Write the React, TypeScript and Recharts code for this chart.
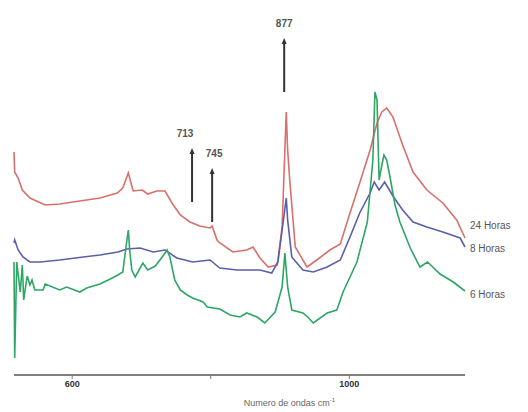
import React from 'react';
import { LineChart, Line, XAxis, YAxis, ReferenceLine } from 'recharts';

// Raman spectra (x: cm-1, y: arbitrary intensity)
const red24h = [
  { x: 516, y: 223 }, { x: 517, y: 203 }, { x: 522, y: 197 }, { x: 528, y: 185 },
  { x: 539, y: 177 }, { x: 561, y: 170 }, { x: 582, y: 171 }, { x: 611, y: 174 },
  { x: 640, y: 177 }, { x: 665, y: 182 }, { x: 673, y: 187 }, { x: 681, y: 202 },
  { x: 688, y: 184 }, { x: 701, y: 185 }, { x: 709, y: 181 }, { x: 722, y: 184 },
  { x: 734, y: 184 }, { x: 744, y: 172 }, { x: 756, y: 160 }, { x: 770, y: 153 },
  { x: 784, y: 149 }, { x: 799, y: 147 }, { x: 802, y: 149 }, { x: 809, y: 135 },
  { x: 813, y: 132 }, { x: 832, y: 123 }, { x: 852, y: 125 }, { x: 861, y: 128 },
  { x: 871, y: 117 }, { x: 883, y: 108 }, { x: 896, y: 110 }, { x: 903, y: 148 },
  { x: 907, y: 225 }, { x: 909, y: 263 }, { x: 911, y: 225 }, { x: 914, y: 195 },
  { x: 922, y: 128 }, { x: 939, y: 108 }, { x: 953, y: 115 }, { x: 972, y: 125 },
  { x: 987, y: 131 }, { x: 1001, y: 162 }, { x: 1015, y: 192 }, { x: 1030, y: 225 },
  { x: 1040, y: 252 }, { x: 1047, y: 263 }, { x: 1054, y: 267 }, { x: 1063, y: 258 },
  { x: 1077, y: 230 }, { x: 1092, y: 203 }, { x: 1112, y: 185 }, { x: 1135, y: 172 },
  { x: 1155, y: 155 }, { x: 1167, y: 137 },
];

const blue8h = [
  { x: 516, y: 132 }, { x: 517, y: 135 }, { x: 522, y: 125 }, { x: 529, y: 118 },
  { x: 539, y: 113 }, { x: 554, y: 113 }, { x: 582, y: 115 }, { x: 616, y: 118 },
  { x: 640, y: 120 }, { x: 666, y: 123 }, { x: 679, y: 126 }, { x: 698, y: 127 },
  { x: 717, y: 123 }, { x: 734, y: 125 }, { x: 751, y: 117 }, { x: 774, y: 113 },
  { x: 799, y: 115 }, { x: 813, y: 107 }, { x: 838, y: 105 }, { x: 871, y: 105 },
  { x: 888, y: 102 }, { x: 897, y: 113 }, { x: 904, y: 150 }, { x: 909, y: 177 },
  { x: 911, y: 155 }, { x: 917, y: 118 }, { x: 933, y: 105 }, { x: 948, y: 103 },
  { x: 968, y: 108 }, { x: 987, y: 115 }, { x: 1001, y: 138 }, { x: 1015, y: 162 },
  { x: 1030, y: 182 }, { x: 1036, y: 193 }, { x: 1043, y: 185 }, { x: 1051, y: 193 },
  { x: 1063, y: 179 }, { x: 1077, y: 165 }, { x: 1092, y: 153 }, { x: 1112, y: 148 },
  { x: 1135, y: 143 }, { x: 1160, y: 137 }, { x: 1167, y: 128 },
];

const green6h = [
  { x: 516, y: 113 }, { x: 517, y: 17 }, { x: 520, y: 113 }, { x: 525, y: 83 },
  { x: 528, y: 110 }, { x: 530, y: 75 }, { x: 535, y: 99 }, { x: 539, y: 90 },
  { x: 542, y: 95 }, { x: 546, y: 85 }, { x: 558, y: 85 }, { x: 561, y: 91 },
  { x: 582, y: 85 }, { x: 592, y: 88 }, { x: 611, y: 83 }, { x: 621, y: 87 },
  { x: 640, y: 91 }, { x: 655, y: 96 }, { x: 666, y: 100 }, { x: 673, y: 103 },
  { x: 679, y: 135 }, { x: 681, y: 145 }, { x: 683, y: 125 }, { x: 686, y: 105 },
  { x: 691, y: 98 }, { x: 702, y: 112 }, { x: 709, y: 105 }, { x: 720, y: 109 },
  { x: 731, y: 119 }, { x: 737, y: 125 }, { x: 741, y: 118 }, { x: 748, y: 95 },
  { x: 756, y: 85 }, { x: 766, y: 80 }, { x: 774, y: 77 }, { x: 789, y: 73 },
  { x: 795, y: 68 }, { x: 813, y: 66 }, { x: 828, y: 60 }, { x: 842, y: 58 },
  { x: 852, y: 62 }, { x: 867, y: 58 }, { x: 878, y: 52 }, { x: 893, y: 63 },
  { x: 903, y: 88 }, { x: 907, y: 122 }, { x: 911, y: 88 }, { x: 917, y: 65 },
  { x: 933, y: 62 }, { x: 940, y: 58 }, { x: 948, y: 52 }, { x: 968, y: 62 },
  { x: 982, y: 65 }, { x: 991, y: 83 }, { x: 1011, y: 113 }, { x: 1026, y: 153 },
  { x: 1034, y: 215 }, { x: 1037, y: 283 }, { x: 1040, y: 275 }, { x: 1043, y: 195 },
  { x: 1047, y: 210 }, { x: 1050, y: 220 }, { x: 1054, y: 215 }, { x: 1059, y: 197 },
  { x: 1066, y: 170 }, { x: 1073, y: 153 }, { x: 1088, y: 127 }, { x: 1102, y: 108 },
  { x: 1113, y: 113 }, { x: 1119, y: 109 }, { x: 1131, y: 101 }, { x: 1150, y: 93 },
  { x: 1167, y: 84 },
];

const xTicks = [600, 800, 1000];
const xTickLabels: Record<number, string> = { 600: '600', 800: '', 1000: '1000' };

// marked bands: label, x position on the axis, arrow bottom / top, label nudge
const bands = [
  { label: '877', x: 906, y1: 283, y2: 337, dx: 0 },
  { label: '713', x: 773, y1: 173, y2: 227, dx: -7 },
  { label: '745', x: 802, y1: 153, y2: 207, dx: 2 },
];

const series = [
  { name: '24 Horas', data: red24h, color: '#d8706c', dy: -12 },
  { name: '8 Horas', data: blue8h, color: '#5b5fa8', dy: 2 },
  { name: '6 Horas', data: green6h, color: '#2fa566', dy: 4 },
];

const FONT = '"Liberation Sans", Arial, sans-serif';

function Arrow(props: any) {
  const { x1, y1, x2, y2, label, dx } = props;
  const top = Math.min(y1, y2);
  const bottom = Math.max(y1, y2);
  return (
    <g>
      <line x1={x1} y1={bottom} x2={x2} y2={top + 4} stroke="#333" strokeWidth={2} />
      <polygon points={`${x1 - 2.5},${top + 6} ${x1 + 2.5},${top + 6} ${x1},${top}`} fill="#333" />
      <text x={x1 + dx} y={top - 11} textAnchor="middle" fontSize={10} fontWeight="bold" fill="#555" fontFamily={FONT}>
        {label}
      </text>
    </g>
  );
}

function EndLabel(text: string, count: number, dy: number) {
  return (props: any) => {
    const { x, y, index } = props;
    if (index !== count - 1) return null;
    return (
      <text x={x + 5} y={y + dy} dominantBaseline="middle" fontSize={10} fill="#555" fontFamily={FONT}>
        {text}
      </text>
    );
  };
}

export default function App() {
  return (
    <div style={{ position: 'absolute', left: 0, top: 0, background: '#fff' }}>
      <LineChart width={528} height={412} margin={{ top: 0, right: 63, left: 14, bottom: 7 }}>
        <XAxis
          type="number"
          dataKey="x"
          domain={[516, 1167]}
          ticks={xTicks}
          tickFormatter={(v) => xTickLabels[v] ?? ''}
          height={30}
          axisLine={{ stroke: '#555', strokeWidth: 1.5 }}
          tickLine={{ stroke: '#777' }}
          tickSize={4}
          tick={{ fontSize: 9, fontWeight: 'bold', fill: '#333', fontFamily: FONT }}
          label={{
            content: (p: any) => {
              const vb = p.viewBox;
              return (
                <text x={vb.x + vb.width / 2 + 50} y={vb.y + 31} textAnchor="middle" fontSize={9} fill="#666" fontFamily={FONT}>
                  Numero de ondas cm
                  <tspan dy={-4} fontSize={6}>-1</tspan>
                </text>
              );
            },
          }}
        />
        <YAxis type="number" domain={[0, 375]} hide />
        {series.map((s) => (
          <Line
            key={s.name}
            data={s.data}
            dataKey="y"
            type="linear"
            stroke={s.color}
            strokeWidth={1.6}
            dot={false}
            isAnimationActive={false}
            label={EndLabel(s.name, s.data.length, s.dy)}
          />
        ))}
        {bands.map((b) => (
          <ReferenceLine
            key={b.label}
            segment={[{ x: b.x, y: b.y1 }, { x: b.x, y: b.y2 }]}
            shape={(p: any) => <Arrow {...p} label={b.label} dx={b.dx} />}
          />
        ))}
      </LineChart>
    </div>
  );
}
